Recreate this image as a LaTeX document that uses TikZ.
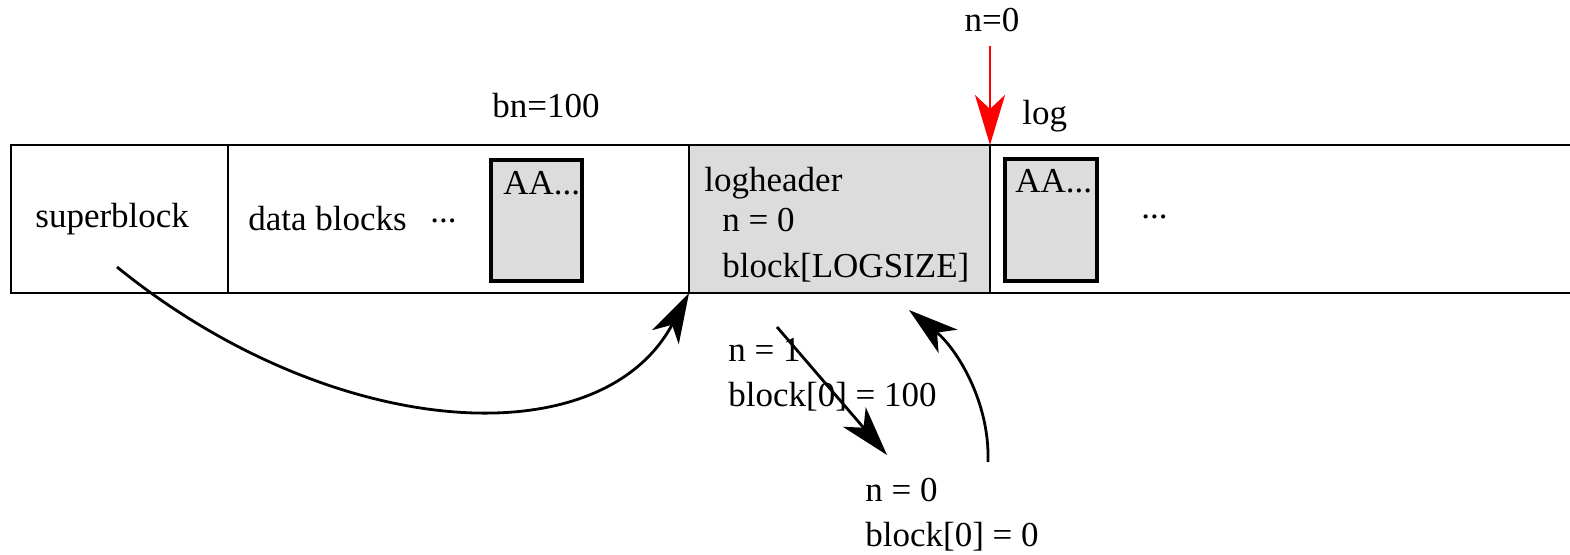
\documentclass[tikz,border=0pt]{standalone}
\usepackage{fontspec}
\setmainfont{Liberation Serif}
\usepackage{tikz}
\usetikzlibrary{arrows.meta, positioning, fit}
\definecolor{lgray}{HTML}{DCDCDC}
\definecolor{lred}{HTML}{FF0000}
\newcommand{\middots}{\raisebox{0.25em}{...}}
\tikzset{
  >={Stealth[length=25pt, width=15pt, inset=7pt]},
  font=\fontsize{17.5}{21}\selectfont,
  cell/.style={draw, line width=1.4pt, inner sep=0pt, outer sep=0pt, fit={#1}},
  buf/.style={draw, fill=lgray, line width=1.6pt, inner sep=0pt, outer sep=0pt, fit={#1}},
  txt/.style={anchor=base west, inner sep=0pt},
  link/.style={->, line width=1.4pt},
  redlink/.style={->, line width=1.4pt, draw=lred, fill=lred}
}

\begin{document}
\begin{tikzpicture}[x=0.5pt, y=-0.5pt]
  \useasboundingbox (0,0) rectangle (1570,555);
  \clip (0,0) rectangle (1570,555);
  % disk layout, one cell per region
  \node[cell={(11,145) (228,293)}] (sb) {};
  \node[cell={(228,145) (689,293)}] (data) {};
  \node[cell={(689,145) (990,293)}, fill=lgray] (lhdr) {};
  \node[cell={(990,145) (1620,293)}] (logc) {};
  \node[buf={(491,160) (582,281)}] (dbuf) {};
  \node[buf={(1005,159) (1097,281)}] (lbuf) {};

  \node[txt] (sbtxt) at (35,228) {superblock};
  \node[txt] (datatxt) at (248,231) {data blocks};
  \node[txt] (ddots) at (430,231) {\middots};
  \node[txt] (daa) at (503,195) {AA...};
  \node[txt] (bn) at (492,118) {bn=100};
  \node[txt] (lhtxt) at (704,192) {logheader};
  \node[txt] (lhn) at (722,232) {n = 0};
  \node[txt] (lhblk) at (722,278) {block[LOGSIZE]};
  \node[txt] (laa) at (1015,193) {AA...};
  \node[txt] (ldots) at (1141,227) {\middots};
  \node[txt] (logtxt) at (1022,125) {log};
  \node[anchor=base, inner sep=0pt] (top0) at (992,32) {n=0};

  % header states below the disk
  \node[txt] (st1n) at (728,362) {n = 1};
  \node[txt] (st1b) at (728,407) {block[0] = 100};
  \node[txt] (st0n) at (865,502) {n = 0};
  \node[txt] (st0b) at (865,547) {block[0] = 0};

  \coordinate (sbpt) at (117,267);
  \coordinate (wa) at (777,327);
  \coordinate (wb) at (887,455);
  \coordinate (ca) at (988,462);
  \coordinate (cb) at (909,310);

  \draw[redlink] ([yshift=-6.5pt]top0.south -| lhdr.north east) -- (lhdr.north east);
  \draw[link] (sbpt) .. controls (330,440) and (600,460) .. (lhdr.south west);
  \draw[link] (wa) -- (wb);
  \draw[link] (ca) .. controls (990,400) and (955,347) .. (cb);
\end{tikzpicture}
\end{document}
